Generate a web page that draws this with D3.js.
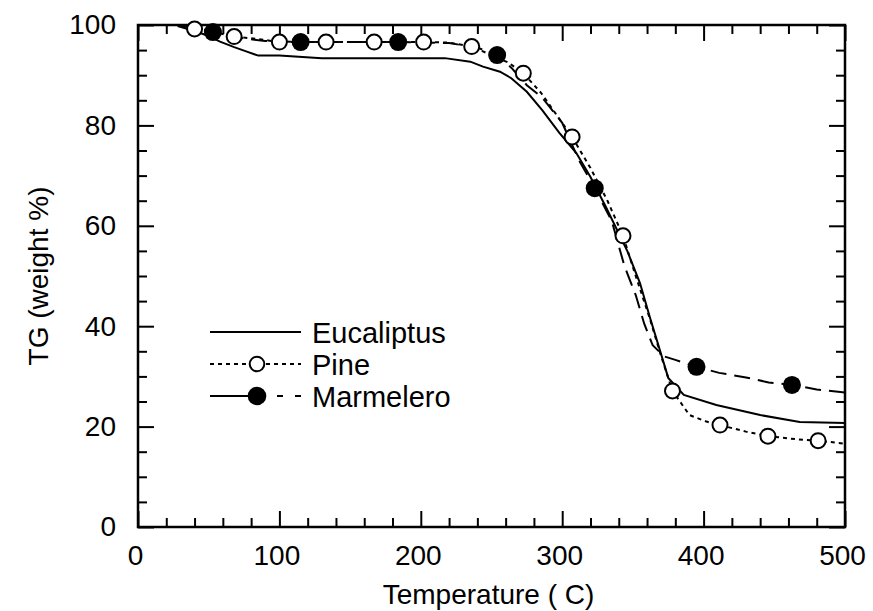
<!DOCTYPE html>
<html lang="en">
    <head>
        <meta charset="utf-8" />
        <title>TG curves</title>
        <script src="https://cdn.jsdelivr.net/npm/d3@7"></script>
        <style type="text/css">
            body { margin: 0; background: #fff; }
            svg { display: block; font-family: "Liberation Sans", Arial, sans-serif; }
        </style>
    </head>
    <body>
        <script type="text/javascript">
            // temperature (C) / weight (%)
            var eucT = [28, 40, 50, 58, 68, 77, 85, 100, 130, 160, 200, 217, 235, 244, 256, 264, 275, 286, 298, 310, 320, 331, 346, 355, 362, 369, 375, 386, 409, 440, 468, 500];
            var eucW = [99.8, 98.8, 97.8, 96.7, 95.6, 94.7, 93.9, 93.9, 93.4, 93.4, 93.4, 93.4, 92.7, 91.7, 90.7, 89.4, 86.7, 83, 78.5, 74.5, 69.7, 63.7, 55, 48.6, 41.8, 35.3, 29.7, 26.3, 24.3, 22.3, 20.9, 20.7];

            var pineT = [30, 40, 55, 68, 85, 100, 133, 167, 202, 220, 236, 250, 262, 272.5, 285, 295, 307, 320, 332, 343, 352, 362, 370, 378, 390, 402, 411.6, 430, 445.5, 465, 481, 500];
            var pineW = [99.8, 99.2, 98.5, 97.7, 97.2, 96.6, 96.6, 96.6, 96.6, 96.5, 95.7, 94, 92.5, 90.4, 86.5, 82.5, 77.7, 71.5, 65, 58, 50, 41.5, 34, 27.1, 22.3, 21, 20.3, 19, 18.1, 17.5, 17.2, 16.6];
            var pineMarkT = [40, 68, 100, 133, 167, 202, 236, 272.5, 307, 343, 378, 411.6, 445.5, 481];
            var pineMarkW = [99.2, 97.7, 96.6, 96.6, 96.6, 96.6, 95.7, 90.4, 77.7, 58, 27.1, 20.3, 18.1, 17.2];

            var marT = [30, 45, 53, 70, 90, 115, 150, 184, 220, 240, 254, 264, 275, 286, 300, 312, 323, 335, 344, 352, 358, 364, 372, 380, 395, 411, 430, 446, 462.5, 480, 500];
            var marW = [99.8, 99.2, 98.6, 97.5, 96.8, 96.6, 96.6, 96.6, 96.4, 95.5, 94, 91.5, 88, 85.5, 80.5, 73, 67.5, 61, 52, 46.2, 40.5, 36.2, 34, 33.3, 31.9, 30.7, 29.8, 28.8, 28.3, 27.4, 26.8];
            var marMarkT = [53, 115, 184, 254, 323, 395, 462.5];
            var marMarkW = [98.6, 96.6, 96.6, 94, 67.5, 31.9, 28.3];

            var legendNames = ["Eucaliptus", "Pine", "Marmelero"];
            var xTicks = [0, 100, 200, 300, 400, 500];
            var yTicks = [0, 20, 40, 60, 80, 100];

            var W = 873, H = 611;
            var mL = 138, mR = 845, mT = 25, mB = 527;

            var x = d3.scaleLinear().domain([0, 500]).range([mL, mR]);
            var y = d3.scaleLinear().domain([0, 100]).range([mB, mT]);

            var svg = d3.select("body").append("svg")
                .attr("width", W)
                .attr("height", H);

            var xMinor = d3.range(0, 501, 20).filter(function (v) { return v % 100 !== 0; });
            var yMinor = d3.range(0, 101, 5).filter(function (v) { return v % 20 !== 0; });

            function styleAxis(g) {
                g.select(".domain").remove();
                g.selectAll("line").attr("stroke", "#000").attr("stroke-width", 2);
                g.selectAll("text").attr("fill", "#000").style("font-size", "28px");
            }

            // bottom
            svg.append("g").attr("transform", "translate(0," + mB + ")")
                .call(d3.axisBottom(x).tickValues(xTicks).tickSize(-16).tickPadding(18))
                .call(styleAxis)
                .selectAll("text").attr("dx", -3);
            svg.append("g").attr("transform", "translate(0," + mB + ")")
                .call(d3.axisBottom(x).tickValues(xMinor).tickSize(-9).tickFormat(""))
                .call(styleAxis);
            // top
            svg.append("g").attr("transform", "translate(0," + mT + ")")
                .call(d3.axisTop(x).tickValues(xTicks).tickSize(-16).tickFormat(""))
                .call(styleAxis);
            svg.append("g").attr("transform", "translate(0," + mT + ")")
                .call(d3.axisTop(x).tickValues(xMinor).tickSize(-9).tickFormat(""))
                .call(styleAxis);
            // left
            svg.append("g").attr("transform", "translate(" + mL + ",0)")
                .call(d3.axisLeft(y).tickValues(yTicks).tickSize(-16).tickPadding(22))
                .call(styleAxis);
            svg.append("g").attr("transform", "translate(" + mL + ",0)")
                .call(d3.axisLeft(y).tickValues(yMinor).tickSize(-9).tickFormat(""))
                .call(styleAxis);
            // right
            svg.append("g").attr("transform", "translate(" + mR + ",0)")
                .call(d3.axisRight(y).tickValues(yTicks).tickSize(-16).tickFormat(""))
                .call(styleAxis);
            svg.append("g").attr("transform", "translate(" + mR + ",0)")
                .call(d3.axisRight(y).tickValues(yMinor).tickSize(-9).tickFormat(""))
                .call(styleAxis);

            svg.append("rect")
                .attr("x", mL).attr("y", mT)
                .attr("width", mR - mL).attr("height", mB - mT)
                .attr("fill", "none").attr("stroke", "#000").attr("stroke-width", 2.5);

            var line = d3.line()
                .x(function (d) { return x(d[0]); })
                .y(function (d) { return y(d[1]); });

            function pairs(a, b) { return a.map(function (v, i) { return [v, b[i]]; }); }

            svg.append("path").datum(pairs(eucT, eucW))
                .attr("d", line).attr("fill", "none")
                .attr("stroke", "#000").attr("stroke-width", 2);

            svg.append("path").datum(pairs(pineT, pineW))
                .attr("d", line).attr("fill", "none")
                .attr("stroke", "#000").attr("stroke-width", 2)
                .attr("stroke-dasharray", "4,4");

            svg.append("path").datum(pairs(marT, marW))
                .attr("d", line).attr("fill", "none")
                .attr("stroke", "#000").attr("stroke-width", 2)
                .attr("stroke-dasharray", "16,8");

            svg.selectAll("circle.pine").data(pairs(pineMarkT, pineMarkW))
                .enter().append("circle").attr("class", "pine")
                .attr("cx", function (d) { return x(d[0]); })
                .attr("cy", function (d) { return y(d[1]); })
                .attr("r", 7.5)
                .attr("fill", "#fff").attr("stroke", "#000").attr("stroke-width", 2);

            svg.selectAll("circle.mar").data(pairs(marMarkT, marMarkW))
                .enter().append("circle").attr("class", "mar")
                .attr("cx", function (d) { return x(d[0]); })
                .attr("cy", function (d) { return y(d[1]); })
                .attr("r", 9)
                .attr("fill", "#000");

            // legend
            var lg = svg.append("g").attr("transform", "translate(210,332)");
            var rows = lg.selectAll("g").data(legendNames).enter().append("g")
                .attr("transform", function (d, i) { return "translate(0," + (i * 32) + ")"; });
            rows.append("line")
                .attr("x1", 0).attr("x2", 91).attr("y1", 0).attr("y2", 0)
                .attr("stroke", "#000").attr("stroke-width", 2)
                .attr("stroke-dasharray", function (d, i) { return i === 0 ? null : (i === 1 ? "4,4" : "56,11,6,12"); });
            rows.filter(function (d, i) { return i === 1; }).append("circle")
                .attr("cx", 47).attr("r", 7.3).attr("fill", "#fff").attr("stroke", "#000").attr("stroke-width", 2);
            rows.filter(function (d, i) { return i === 2; }).append("circle")
                .attr("cx", 47).attr("r", 9.3).attr("fill", "#000");
            rows.append("text")
                .attr("x", 102).attr("y", 10.5)
                .style("font-size", "29px")
                .text(function (d) { return d; });

            svg.append("text")
                .attr("x", (mL + mR) / 2 - 3).attr("y", 604)
                .attr("text-anchor", "middle").style("font-size", "28px")
                .text("Temperature ( C)");

            svg.append("text")
                .attr("transform", "translate(48," + ((mT + mB) / 2) + ") rotate(-90)")
                .attr("text-anchor", "middle").style("font-size", "28px")
                .text("TG (weight %)");
        </script>
    </body>
</html>
